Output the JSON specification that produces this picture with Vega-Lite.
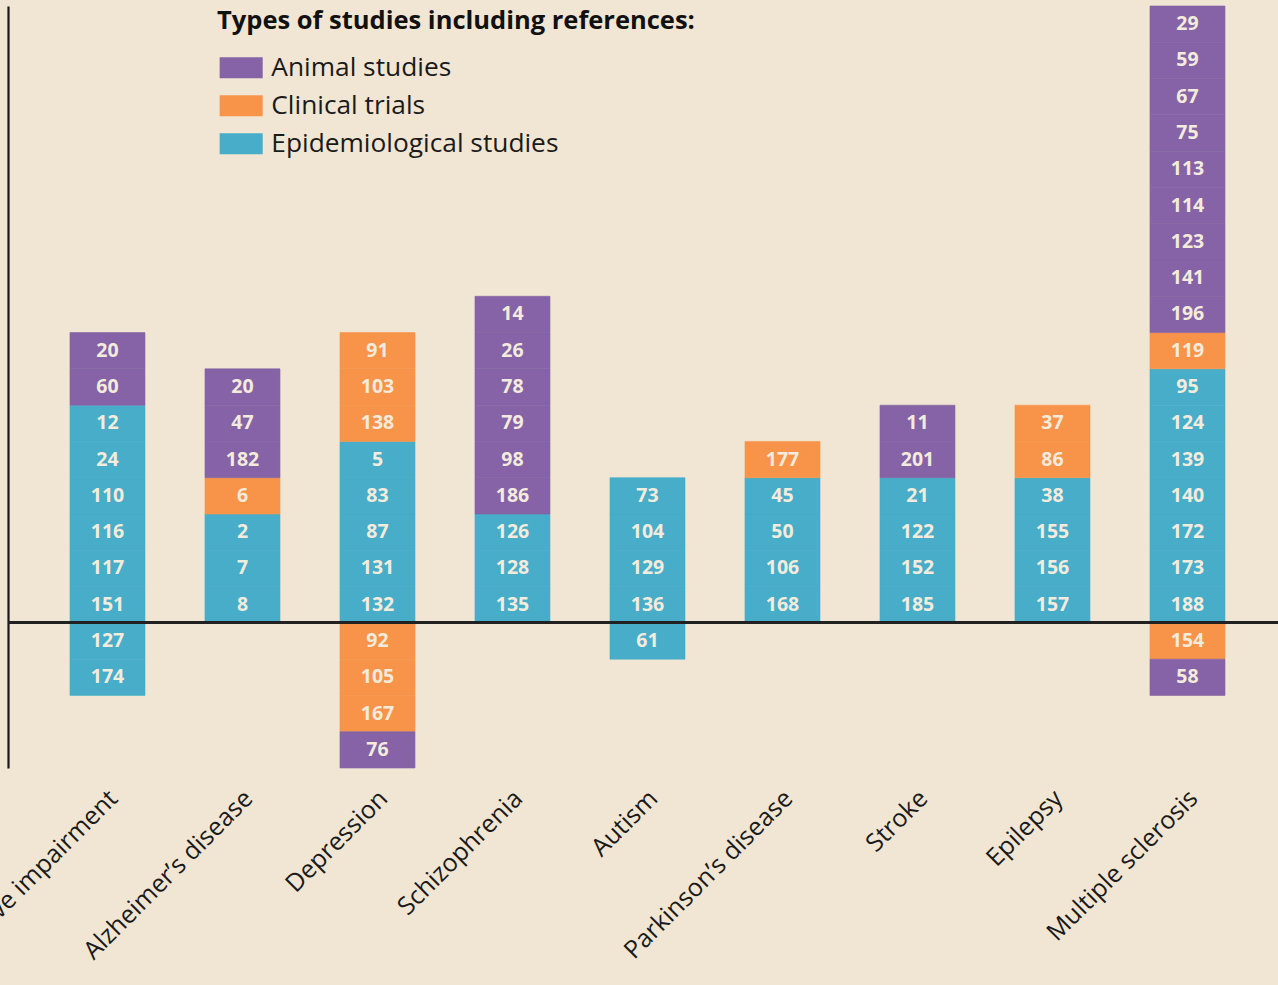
{
  "$schema": "https://vega.github.io/schema/vega-lite/v6.json",
  "autosize": "none",
  "width": 1270,
  "height": 762,
  "padding": {"left": 8, "top": 6, "right": 0, "bottom": 217},
  "background": "#f1e6d3",
  "data": {
    "values": [
      {"disease": "Cognitive impairment", "type": "Epidemiological studies", "ref": 151, "n": 1},
      {"disease": "Cognitive impairment", "type": "Epidemiological studies", "ref": 117, "n": 1},
      {"disease": "Cognitive impairment", "type": "Epidemiological studies", "ref": 116, "n": 1},
      {"disease": "Cognitive impairment", "type": "Epidemiological studies", "ref": 110, "n": 1},
      {"disease": "Cognitive impairment", "type": "Epidemiological studies", "ref": 24, "n": 1},
      {"disease": "Cognitive impairment", "type": "Epidemiological studies", "ref": 12, "n": 1},
      {"disease": "Cognitive impairment", "type": "Animal studies", "ref": 60, "n": 1},
      {"disease": "Cognitive impairment", "type": "Animal studies", "ref": 20, "n": 1},
      {"disease": "Cognitive impairment", "type": "Epidemiological studies", "ref": 127, "n": -1},
      {"disease": "Cognitive impairment", "type": "Epidemiological studies", "ref": 174, "n": -1},
      {"disease": "Alzheimer’s disease", "type": "Epidemiological studies", "ref": 8, "n": 1},
      {"disease": "Alzheimer’s disease", "type": "Epidemiological studies", "ref": 7, "n": 1},
      {"disease": "Alzheimer’s disease", "type": "Epidemiological studies", "ref": 2, "n": 1},
      {"disease": "Alzheimer’s disease", "type": "Clinical trials", "ref": 6, "n": 1},
      {"disease": "Alzheimer’s disease", "type": "Animal studies", "ref": 182, "n": 1},
      {"disease": "Alzheimer’s disease", "type": "Animal studies", "ref": 47, "n": 1},
      {"disease": "Alzheimer’s disease", "type": "Animal studies", "ref": 20, "n": 1},
      {"disease": "Depression", "type": "Epidemiological studies", "ref": 132, "n": 1},
      {"disease": "Depression", "type": "Epidemiological studies", "ref": 131, "n": 1},
      {"disease": "Depression", "type": "Epidemiological studies", "ref": 87, "n": 1},
      {"disease": "Depression", "type": "Epidemiological studies", "ref": 83, "n": 1},
      {"disease": "Depression", "type": "Epidemiological studies", "ref": 5, "n": 1},
      {"disease": "Depression", "type": "Clinical trials", "ref": 138, "n": 1},
      {"disease": "Depression", "type": "Clinical trials", "ref": 103, "n": 1},
      {"disease": "Depression", "type": "Clinical trials", "ref": 91, "n": 1},
      {"disease": "Depression", "type": "Clinical trials", "ref": 92, "n": -1},
      {"disease": "Depression", "type": "Clinical trials", "ref": 105, "n": -1},
      {"disease": "Depression", "type": "Clinical trials", "ref": 167, "n": -1},
      {"disease": "Depression", "type": "Animal studies", "ref": 76, "n": -1},
      {"disease": "Schizophrenia", "type": "Epidemiological studies", "ref": 135, "n": 1},
      {"disease": "Schizophrenia", "type": "Epidemiological studies", "ref": 128, "n": 1},
      {"disease": "Schizophrenia", "type": "Epidemiological studies", "ref": 126, "n": 1},
      {"disease": "Schizophrenia", "type": "Animal studies", "ref": 186, "n": 1},
      {"disease": "Schizophrenia", "type": "Animal studies", "ref": 98, "n": 1},
      {"disease": "Schizophrenia", "type": "Animal studies", "ref": 79, "n": 1},
      {"disease": "Schizophrenia", "type": "Animal studies", "ref": 78, "n": 1},
      {"disease": "Schizophrenia", "type": "Animal studies", "ref": 26, "n": 1},
      {"disease": "Schizophrenia", "type": "Animal studies", "ref": 14, "n": 1},
      {"disease": "Autism", "type": "Epidemiological studies", "ref": 136, "n": 1},
      {"disease": "Autism", "type": "Epidemiological studies", "ref": 129, "n": 1},
      {"disease": "Autism", "type": "Epidemiological studies", "ref": 104, "n": 1},
      {"disease": "Autism", "type": "Epidemiological studies", "ref": 73, "n": 1},
      {"disease": "Autism", "type": "Epidemiological studies", "ref": 61, "n": -1},
      {"disease": "Parkinson’s disease", "type": "Epidemiological studies", "ref": 168, "n": 1},
      {"disease": "Parkinson’s disease", "type": "Epidemiological studies", "ref": 106, "n": 1},
      {"disease": "Parkinson’s disease", "type": "Epidemiological studies", "ref": 50, "n": 1},
      {"disease": "Parkinson’s disease", "type": "Epidemiological studies", "ref": 45, "n": 1},
      {"disease": "Parkinson’s disease", "type": "Clinical trials", "ref": 177, "n": 1},
      {"disease": "Stroke", "type": "Epidemiological studies", "ref": 185, "n": 1},
      {"disease": "Stroke", "type": "Epidemiological studies", "ref": 152, "n": 1},
      {"disease": "Stroke", "type": "Epidemiological studies", "ref": 122, "n": 1},
      {"disease": "Stroke", "type": "Epidemiological studies", "ref": 21, "n": 1},
      {"disease": "Stroke", "type": "Animal studies", "ref": 201, "n": 1},
      {"disease": "Stroke", "type": "Animal studies", "ref": 11, "n": 1},
      {"disease": "Epilepsy", "type": "Epidemiological studies", "ref": 157, "n": 1},
      {"disease": "Epilepsy", "type": "Epidemiological studies", "ref": 156, "n": 1},
      {"disease": "Epilepsy", "type": "Epidemiological studies", "ref": 155, "n": 1},
      {"disease": "Epilepsy", "type": "Epidemiological studies", "ref": 38, "n": 1},
      {"disease": "Epilepsy", "type": "Clinical trials", "ref": 86, "n": 1},
      {"disease": "Epilepsy", "type": "Clinical trials", "ref": 37, "n": 1},
      {"disease": "Multiple sclerosis", "type": "Epidemiological studies", "ref": 188, "n": 1},
      {"disease": "Multiple sclerosis", "type": "Epidemiological studies", "ref": 173, "n": 1},
      {"disease": "Multiple sclerosis", "type": "Epidemiological studies", "ref": 172, "n": 1},
      {"disease": "Multiple sclerosis", "type": "Epidemiological studies", "ref": 140, "n": 1},
      {"disease": "Multiple sclerosis", "type": "Epidemiological studies", "ref": 139, "n": 1},
      {"disease": "Multiple sclerosis", "type": "Epidemiological studies", "ref": 124, "n": 1},
      {"disease": "Multiple sclerosis", "type": "Epidemiological studies", "ref": 95, "n": 1},
      {"disease": "Multiple sclerosis", "type": "Clinical trials", "ref": 119, "n": 1},
      {"disease": "Multiple sclerosis", "type": "Animal studies", "ref": 196, "n": 1},
      {"disease": "Multiple sclerosis", "type": "Animal studies", "ref": 141, "n": 1},
      {"disease": "Multiple sclerosis", "type": "Animal studies", "ref": 123, "n": 1},
      {"disease": "Multiple sclerosis", "type": "Animal studies", "ref": 114, "n": 1},
      {"disease": "Multiple sclerosis", "type": "Animal studies", "ref": 113, "n": 1},
      {"disease": "Multiple sclerosis", "type": "Animal studies", "ref": 75, "n": 1},
      {"disease": "Multiple sclerosis", "type": "Animal studies", "ref": 67, "n": 1},
      {"disease": "Multiple sclerosis", "type": "Animal studies", "ref": 59, "n": 1},
      {"disease": "Multiple sclerosis", "type": "Animal studies", "ref": 29, "n": 1},
      {"disease": "Multiple sclerosis", "type": "Clinical trials", "ref": 154, "n": -1},
      {"disease": "Multiple sclerosis", "type": "Animal studies", "ref": 58, "n": -1}
    ]
  },
  "layer": [
    {
      "transform": [
        {"filter": "datum.n > 0"},
        {"stack": "n", "groupby": ["disease"], "sort": [{"field": "type", "order": "descending"}, {"field": "ref", "order": "descending"}], "as": ["y0", "y1"], "offset": "zero"}
      ],
      "encoding": {
        "x": {
          "field": "disease",
          "type": "nominal",
          "sort": ["Cognitive impairment", "Alzheimer’s disease", "Depression", "Schizophrenia", "Autism", "Parkinson’s disease", "Stroke", "Epilepsy", "Multiple sclerosis"],
          "scale": {"paddingInner": 0.4444, "paddingOuter": 0.4259, "align": 0.539},
          "axis": {
            "title": null,
            "domain": false,
            "ticks": false,
            "labelAngle": -45,
            "labelAlign": "right",
            "labelBaseline": "middle",
            "labelPadding": 26,
            "labelOffset": 6,
            "labelFont": "Open Sans",
            "labelFontSize": 25,
            "labelColor": "#1a1a1a",
            "labelLimit": 600
          }
        }
      },
      "layer": [
        {
          "mark": {"type": "bar", "strokeWidth": 0.6},
          "encoding": {
            "y": {
              "field": "y0", "type": "quantitative",
              "scale": {"domain": [-4, 17], "nice": false, "zero": false},
              "axis": {"title": null, "labels": false, "ticks": false, "grid": false, "domain": true, "domainColor": "#1a1a1a", "domainWidth": 2.2}
            },
            "y2": {"field": "y1"},
            "color": {
              "field": "type", "type": "nominal",
              "scale": {"domain": ["Animal studies", "Clinical trials", "Epidemiological studies"], "range": ["#8563a6", "#f7944a", "#47adc9"]},
              "legend": {"title": "Types of studies including references:"}
            },
            "stroke": {
              "field": "type", "type": "nominal",
              "scale": {"domain": ["Animal studies", "Clinical trials", "Epidemiological studies"], "range": ["#8563a6", "#f7944a", "#47adc9"]},
              "legend": null
            }
          }
        },
        {
          "mark": {"type": "text", "font": "Open Sans", "fontWeight": "bold", "fontSize": 19.5, "color": "#f3ebdc", "baseline": "middle", "align": "center", "dy": 18.1},
          "encoding": {
            "y": {"field": "y1", "type": "quantitative"},
            "text": {"field": "ref", "type": "quantitative"}
          }
        }
      ]
    },
    {
      "transform": [
        {"filter": "datum.n < 0"},
        {"stack": "n", "groupby": ["disease"], "sort": [{"field": "type", "order": "descending"}, {"field": "ref", "order": "ascending"}], "as": ["y0", "y1"], "offset": "zero"}
      ],
      "encoding": {
        "x": {
          "field": "disease",
          "type": "nominal",
          "sort": ["Cognitive impairment", "Alzheimer’s disease", "Depression", "Schizophrenia", "Autism", "Parkinson’s disease", "Stroke", "Epilepsy", "Multiple sclerosis"]
        }
      },
      "layer": [
        {
          "mark": {"type": "bar", "strokeWidth": 0.6},
          "encoding": {
            "y": {"field": "y0", "type": "quantitative"},
            "y2": {"field": "y1"},
            "color": {"field": "type", "type": "nominal"},
            "stroke": {"field": "type", "type": "nominal", "legend": null}
          }
        },
        {
          "mark": {"type": "text", "font": "Open Sans", "fontWeight": "bold", "fontSize": 19.5, "color": "#f3ebdc", "baseline": "middle", "align": "center", "dy": -18.1},
          "encoding": {
            "y": {"field": "y1", "type": "quantitative"},
            "text": {"field": "ref", "type": "quantitative"}
          }
        }
      ]
    },
    {
      "mark": {"type": "rule", "color": "#222222", "strokeWidth": 2},
      "encoding": {"y": {"datum": 0}}
    }
  ],
  "config": {
    "view": {"stroke": null},
    "legend": {
      "orient": "none",
      "legendX": 209,
      "legendY": 3,
      "titleFont": "Open Sans",
      "titleFontSize": 25.5,
      "titleFontWeight": "bold",
      "titleColor": "#111111",
      "titlePadding": 20,
      "titleLimit": 800,
      "labelFont": "Open Sans",
      "labelFontSize": 26.3,
      "labelColor": "#1a1a1a",
      "labelLimit": 600,
      "symbolType": "M-1,-1H3.1V1H-1Z",
      "symbolSize": 441,
      "symbolStrokeWidth": 0,
      "symbolOpacity": 1,
      "labelOffset": 28,
      "rowPadding": 11
    }
  }
}
